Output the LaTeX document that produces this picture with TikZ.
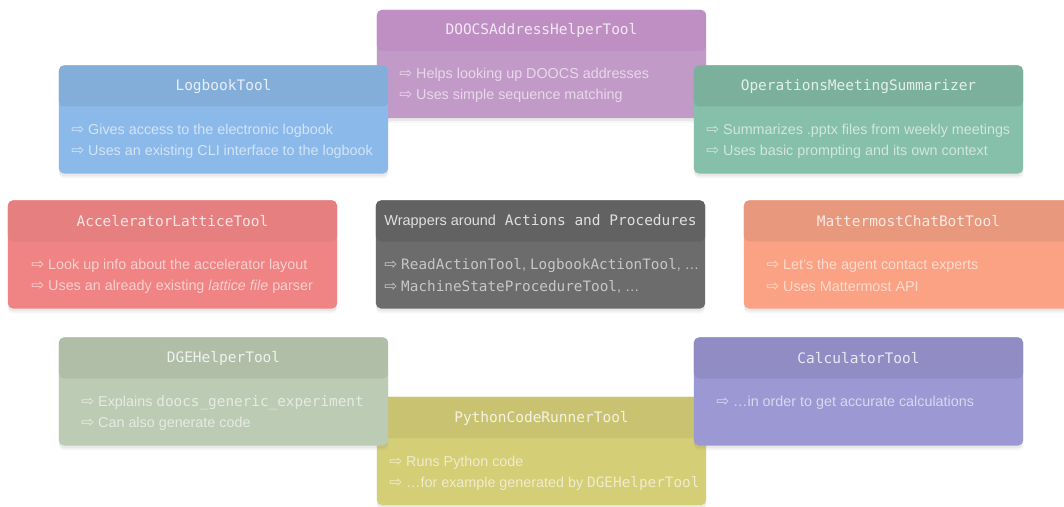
\documentclass[tikz,border=0pt]{standalone}
\usepackage{fontspec}
\setmainfont{Liberation Sans}
\setsansfont{Liberation Sans}
\setmonofont{DejaVu Sans Mono}
\newfontfamily\arrfont{DejaVu Sans}
\usetikzlibrary{shadows}

\definecolor{doocshead}{RGB}{191,143,196}
\definecolor{doocsbody}{RGB}{194,154,200}
\definecolor{logbhead}{RGB}{132,174,218}
\definecolor{logbbody}{RGB}{139,185,234}
\definecolor{opshead}{RGB}{123,176,156}
\definecolor{opsbody}{RGB}{134,191,170}
\definecolor{acchead}{RGB}{230,128,128}
\definecolor{accbody}{RGB}{240,132,132}
\definecolor{wraphead}{RGB}{98,98,98}
\definecolor{wrapbody}{RGB}{108,108,108}
\definecolor{mmhead}{RGB}{232,152,124}
\definecolor{mmbody}{RGB}{250,162,131}
\definecolor{dgehead}{RGB}{176,190,168}
\definecolor{dgebody}{RGB}{188,203,180}
\definecolor{pyhead}{RGB}{201,195,113}
\definecolor{pybody}{RGB}{212,206,119}
\definecolor{calchead}{RGB}{146,140,196}
\definecolor{calcbody}{RGB}{156,152,212}

\newcommand{\warr}{{\arrfont\fontsize{11}{12}\selectfont ⇨}\ }

\tikzset{card/.style={rounded corners=3.5pt, minimum width=8.225cm, minimum height=2.7cm, inner sep=0pt,
    drop shadow={shadow xshift=0pt, shadow yshift=-3.5pt, opacity=0.07},
    drop shadow={shadow xshift=0pt, shadow yshift=-2pt, opacity=0.10},
    path picture={\fill[#1] (path picture bounding box.north west) rectangle ([yshift=-1.025cm]path picture bounding box.north east);}}}
\tikzstyle{title} = [font=\fontsize{10.3}{12}\selectfont\ttfamily, text=white, text opacity=0.8, inner sep=0pt]
\tikzstyle{itemtext} = [anchor=west, font=\fontsize{10.2}{12}\selectfont, text=white, text opacity=0.62, inner sep=0pt]

\begin{document}
\begin{tikzpicture}[x=0.025cm, y=-0.025cm]

\fill[white] (0,0) rectangle (1064,506);
\useasboundingbox (0,0) rectangle (1064,506);

% top row
\node[card=doocshead, fill=doocsbody] (doocs) at (541.5,64) {};
\node[title] (doocs-t) at (541.5,30.5) {DOOCSAddressHelperTool};
\node[itemtext] (doocs-a) at (399,74.5) {\warr Helps looking up DOOCS addresses};
\node[itemtext] (doocs-b) at (399,95.5) {\warr Uses simple sequence matching};

\node[card=logbhead, fill=logbbody] (logb) at (223.5,119.5) {};
\node[title] (logb-t) at (223.5,86.5) {LogbookTool};
\node[itemtext] (logb-a) at (71,130.5) {\warr Gives access to the electronic logbook};
\node[itemtext] (logb-b) at (71,151.5) {\warr Uses an existing CLI interface to the logbook};

\node[card=opshead, fill=opsbody] (ops) at (858.5,119.5) {};
\node[title] (ops-t) at (858.5,86.5) {OperationsMeetingSummarizer};
\node[itemtext] (ops-a) at (706,130.5) {\warr Summarizes .pptx files from weekly meetings};
\node[itemtext] (ops-b) at (706,151.5) {\warr Uses basic prompting and its own context};

% middle row
\node[card=acchead, fill=accbody] (acc) at (172.5,254.5) {};
\node[title] (acc-t) at (172.5,221.5) {AcceleratorLatticeTool};
\node[itemtext] (acc-a) at (31,265.5) {\warr Look up info about the accelerator layout};
\node[itemtext] (acc-b) at (31,286.5) {\warr Uses an already existing \textit{lattice file} parser};

\node[card=wraphead, fill=wrapbody] (wrap) at (540.5,254.5) {};
\node[title] (wrap-t) at (540.5,221.5) {{\rmfamily Wrappers around} Actions and Procedures};
\node[itemtext] (wrap-a) at (384,265.5) {\warr\texttt{ReadActionTool}, \texttt{LogbookActionTool}, …};
\node[itemtext] (wrap-b) at (384,286.5) {\warr\texttt{MachineStateProcedureTool}, …};

\node[card=mmhead, fill=mmbody] (mm) at (908.5,254.5) {};
\node[title] (mm-t) at (908.5,221.5) {MattermostChatBotTool};
\node[itemtext] (mm-a) at (766,265.5) {\warr Let’s the agent contact experts};
\node[itemtext] (mm-b) at (766,286.5) {\warr Uses Mattermost API};

% bottom row
\node[card=pyhead, fill=pybody] (py) at (541.5,451) {};
\node[title] (py-t) at (541.5,418.5) {PythonCodeRunnerTool};
\node[itemtext] (py-a) at (389,462.5) {\warr Runs Python code};
\node[itemtext] (py-b) at (389,483.5) {\warr …for example generated by \texttt{DGEHelperTool}};

\node[card=dgehead, fill=dgebody] (dge) at (223.5,391.5) {};
\node[title] (dge-t) at (223.5,358.5) {DGEHelperTool};
\node[itemtext] (dge-a) at (81,402.5) {\warr Explains \texttt{doocs\_generic\_experiment}};
\node[itemtext] (dge-b) at (81,423.5) {\warr Can also generate code};

\node[card=calchead, fill=calcbody] (calc) at (858.5,391.5) {};
\node[title] (calc-t) at (858.5,358.5) {CalculatorTool};
\node[itemtext] (calc-a) at (716,402.5) {\warr …in order to get accurate calculations};

\end{tikzpicture}
\end{document}
